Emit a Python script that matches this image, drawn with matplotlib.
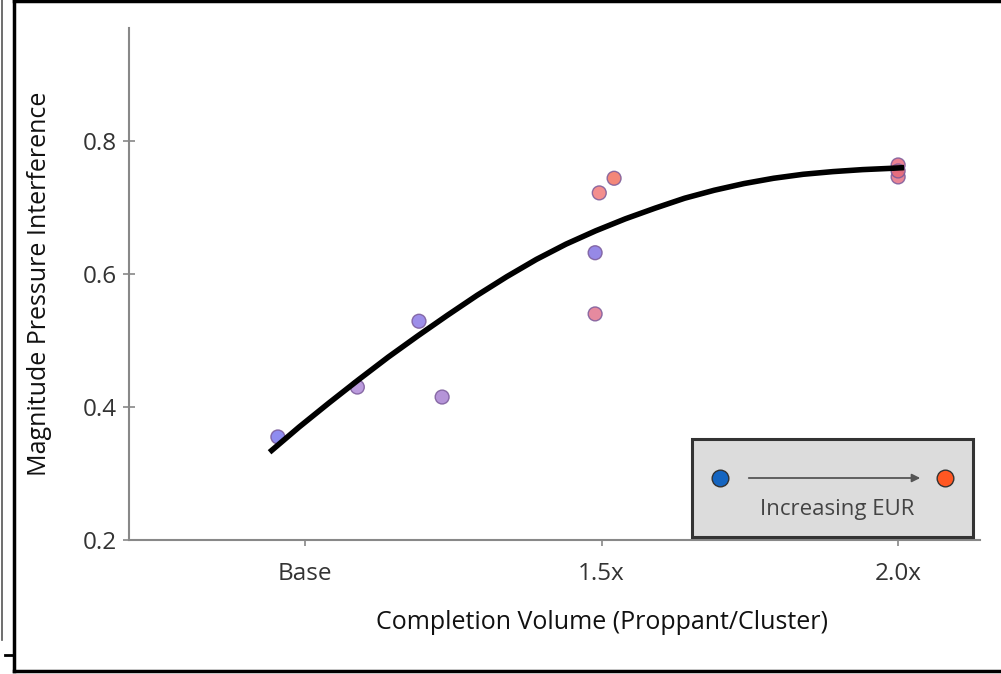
import numpy as np
import matplotlib.pyplot as plt
from matplotlib.lines import Line2D
from matplotlib.patches import Rectangle, FancyArrowPatch

plt.rcParams['font.family'] = ['Open Sans', 'DejaVu Sans']

# completion volume as multiple of base (1.0 = Base)
vol = [0.954, 1.088, 1.192, 1.231, 1.489, 1.489, 1.496, 1.521, 2.000, 2.000, 2.000]
interf = [0.355, 0.430, 0.529, 0.415, 0.632, 0.540, 0.722, 0.744, 0.764, 0.746, 0.755]
pt_colors = ['#7b78ee', '#b08ad8', '#8c7ae6', '#a882d2', '#8474e2', '#e2768e',
             '#f27a7a', '#f27262', '#e86c80', '#e67084', '#e66a7a']

# trend line
trend_x = [0.94, 0.99, 1.04, 1.09, 1.14, 1.19, 1.24, 1.29, 1.34, 1.39, 1.44,
           1.49, 1.54, 1.59, 1.64, 1.69, 1.74, 1.79, 1.84, 1.89, 1.94, 1.99, 2.01]
trend_y = [0.332, 0.370, 0.406, 0.441, 0.475, 0.507, 0.538, 0.568, 0.596, 0.622, 0.645,
           0.665, 0.683, 0.699, 0.714, 0.726, 0.736, 0.744, 0.750, 0.754, 0.757, 0.759, 0.760]

xticks = [1.0, 1.5, 2.0]
xtick_labels = ['Base', '1.5x', '2.0x']
yticks = [0.2, 0.4, 0.6, 0.8]

fig = plt.figure(figsize=(10.01, 6.74), dpi=100)
ax = fig.add_axes([0.1289, 0.1988, 0.979 - 0.1289, 0.9585 - 0.1988])

ax.plot(trend_x, trend_y, color='black', lw=4, solid_capstyle='butt',
        solid_joinstyle='round', zorder=3)
ax.scatter(vol, interf, s=100, c=pt_colors, alpha=0.85, edgecolors='#7a5a9a',
           linewidths=1.0, zorder=2)

ax.set_xlim(0.703, 2.138)
ax.set_ylim(0.2, 0.97)
ax.set_xticks(xticks)
ax.set_xticklabels(xtick_labels)
ax.set_yticks(yticks)
ax.set_yticklabels(['%.1f' % v for v in yticks])
ax.tick_params(axis='y', direction='inout', length=9, width=1.2, color='#888888',
               labelsize=17.5, labelcolor='#333333', pad=4)
ax.tick_params(axis='x', direction='out', length=4, width=1.2, color='#888888',
               labelsize=17.5, labelcolor='#333333', pad=12)
for s in ['top', 'right']:
    ax.spines[s].set_visible(False)
for s in ['left', 'bottom']:
    ax.spines[s].set_color('#888888')
    ax.spines[s].set_linewidth(1.5)

ax.set_xlabel('Completion Volume (Proppant/Cluster)', fontsize=18, color='#111111')
ax.set_ylabel('Magnitude Pressure Interference', fontsize=18, color='#111111')
ax.xaxis.set_label_coords(0.556, -0.136)
ax.yaxis.set_label_coords(-0.091, 0.5)

# legend box: colour scale from low to high EUR
W, H = 1001.0, 674.0
def fx(px):
    return px / W
def fy(py):
    return 1 - py / H

fig.patches.append(Rectangle((fx(692), fy(537)), fx(973) - fx(692), fy(439) - fy(537),
                             transform=fig.transFigure, facecolor='#dcdcdc',
                             edgecolor='#333333', linewidth=2.2, zorder=5))
fig.add_artist(Line2D([fx(720)], [fy(478)], marker='o', markersize=12,
                      markerfacecolor='#1565c0', markeredgecolor='#333333',
                      markeredgewidth=1.0, transform=fig.transFigure, zorder=6))
fig.add_artist(Line2D([fx(945)], [fy(478)], marker='o', markersize=12,
                      markerfacecolor='#ff5722', markeredgecolor='#333333',
                      markeredgewidth=1.0, transform=fig.transFigure, zorder=6))
fig.patches.append(FancyArrowPatch((fx(746), fy(478)), (fx(923), fy(478)),
                                   transform=fig.transFigure, arrowstyle='-|>',
                                   mutation_scale=12, color='#555555', lw=1.3, zorder=6))
fig.text(fx(837), fy(510), 'Increasing EUR', ha='center', va='center',
         fontsize=16, color='#444444', zorder=7)

# outer frame
fig.add_artist(Line2D([fx(14), fx(14)], [fy(0), fy(671)], color='black', lw=2.5,
                      transform=fig.transFigure))
fig.add_artist(Line2D([fx(14), 1.0], [fy(1), fy(1)], color='black', lw=2.5,
                      transform=fig.transFigure))
fig.add_artist(Line2D([fx(14), 1.0], [fy(671), fy(671)], color='black', lw=2.5,
                      transform=fig.transFigure))
fig.add_artist(Line2D([fx(1.5), fx(1.5)], [fy(0), fy(640)], color='#555555', lw=1.2,
                      transform=fig.transFigure))
fig.add_artist(Line2D([fx(5), fx(14)], [fy(655), fy(655)], color='black', lw=2,
                      transform=fig.transFigure))

fig.savefig('out.png', dpi=100)
